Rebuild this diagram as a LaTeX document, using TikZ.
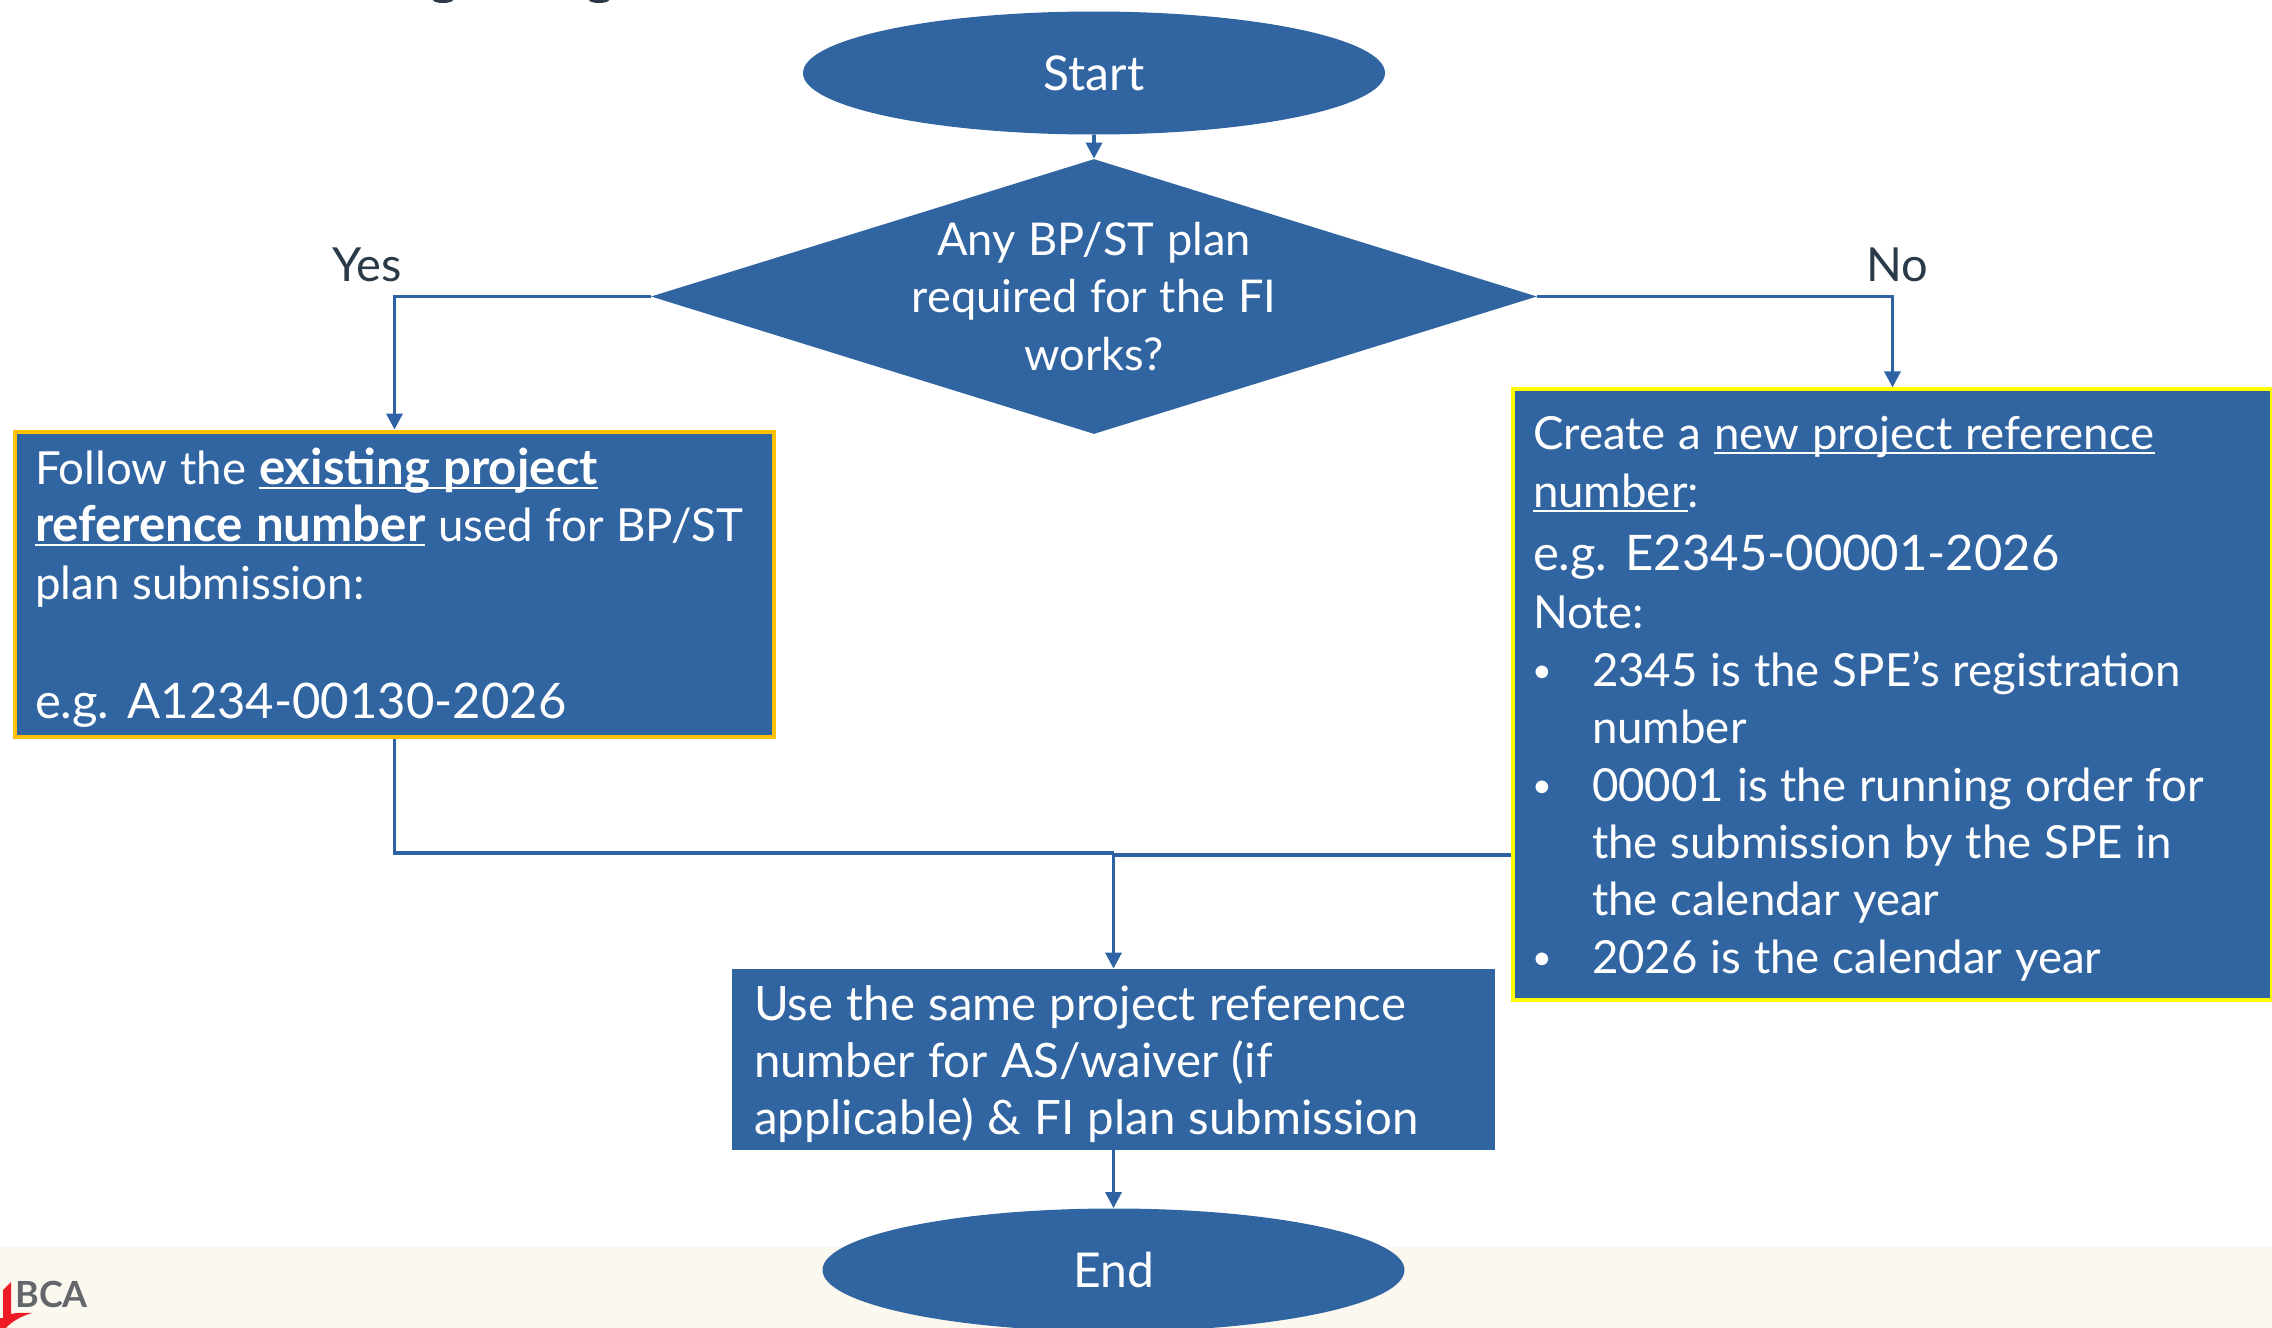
\documentclass[tikz,border=0pt]{standalone}
\usepackage{fontspec}
\usetikzlibrary{shapes.geometric,arrows.meta,calc}
\setmainfont{Lato}[WordSpace=1.1]
\definecolor{fc}{HTML}{3165A2}
\definecolor{lc}{HTML}{2F62A3}
\definecolor{band}{HTML}{FBF9EF}
\definecolor{lab}{HTML}{2B3A48}
\definecolor{amber}{HTML}{FFC000}
\definecolor{lemon}{HTML}{FFFF00}
\definecolor{logogray}{HTML}{63666A}
\definecolor{logored}{HTML}{ED1C24}
\newsavebox{\ulbox}
\newcommand{\myul}[1]{\leavevmode\sbox{\ulbox}{#1}\rlap{\rule[-2.2pt]{\wd\ulbox}{0.9pt}}\usebox{\ulbox}}
\newcommand{\bul}{\makebox[29.5pt][l]{\hspace{-0.5pt}\raisebox{2pt}{\fontsize{17}{17}\selectfont •}}}
\newcommand{\ind}{\hspace*{29.5pt}}
\newcommand{\eg}[1]{{\fontsize{24.5}{28.7}\selectfont #1}}
\newcommand{\bld}[1]{{\fontsize{24.6}{28.7}\selectfont\bfseries #1}}
\tikzset{
  x=0.5pt,y=-0.5pt,
  natural/.style={execute at begin node={\spaceskip=0pt\xspaceskip=0pt\relax}},
  term/.style={ellipse,fill=fc,inner sep=0pt,minimum width=291pt,minimum height=61.5pt,font=\fontsize{24}{28.7}\selectfont,text=white},
  decide/.style={diamond,fill=fc,inner sep=0pt,aspect=3.2,minimum width=443pt,minimum height=137.5pt},
  dectext/.style={font=\fontsize{22.6}{28.7}\selectfont,text=white,align=center},
  stepbox/.style={rectangle,fill=fc,inner ysep=0pt,inner xsep=10pt,text width=359.5pt,align=left,natural,font=\fontsize{22.8}{28.7}\selectfont,text=white},
  midbox/.style={rectangle,fill=fc,inner ysep=0pt,inner xsep=11pt,text width=359.5pt,minimum height=90.5pt,align=left,natural,font=\fontsize{23.7}{28.7}\selectfont,text=white},
  flow/.style={draw=lc,line width=1.7pt,-{Triangle[length=8pt,width=8pt]}},
  flowplain/.style={draw=lc,line width=1.7pt},
  branch/.style={font=\fontsize{23.5}{24}\selectfont,text=lab},
}
\begin{document}
\begin{tikzpicture}
\useasboundingbox (0,0) rectangle (2272,1328);
\fill[band] (0,1247) rectangle (2272,1328);
% cropped text remnants at top edge
\fill[lab] (433,0) arc[start angle=180,end angle=360,x radius=10,y radius=-3] -- cycle;
\fill[lab] (589,0) arc[start angle=180,end angle=360,x radius=10,y radius=-3] -- cycle;

\node[term] (start) at (1094,73) {Start};
\node[decide] (dec) at (1094,296.5) {};
\node[dectext] (dect) at (dec.center) {Any BP/ST plan\\required for the FI\\works?};
\node[stepbox,draw=amber,line width=2pt,minimum height=152.5pt] (yesbox) at (394.5,584) {%
\rule{0pt}{22pt}Follow the \myul{\bld{existing project}}\\
\myul{\bld{reference number}} used for BP/ST\\
plan submission:\\
\mbox{}\\[2.5pt]
\eg{e.g. A1234-00130-2026}};
\node[stepbox,draw=lemon,line width=1.6pt,minimum height=305.5pt] (nobox) at (1892.5,694.5) {%
\rule{0pt}{21pt}Create a \myul{new project reference}\\
\myul{number}:\\[3pt]
\eg{e.g. E2345-00001-2026}\\[0.5pt]
Note:\\
\bul 2345 is the SPE’s registration\\
\ind number\\
\bul 00001 is the running order for\\
\ind the submission by the SPE in\\
\ind the calendar year\\
\bul 2026 is the calendar year};
\node[midbox] (mid) at (1113.5,1059.5) {\rule{0pt}{22pt}Use the same project reference\\number for AS/waiver (if\\applicable) \& FI plan submission};
\node[term] (endn) at (1113.5,1270) {End};

\node[branch] (yes) at (367,265) {Yes};
\node[branch] (no) at (1897,265) {No};

\coordinate (nport) at (nobox.west |- 0,855);
\coordinate (join) at (mid.north |- 0,853);
\draw[flow] (start.south) -- (dec.north);
\draw[flow] (dec.west) -| (yesbox.north);
\draw[flow] (dec.east) -| (nobox.north);
\draw[flowplain] (yesbox.south) |- (join);
\draw[flowplain] (nport) -- (mid.north |- nport);
\draw[flow] (join) -- (mid.north);
\draw[flow] (mid.south) -- (endn.north);

% logo
\node[inner sep=0pt,anchor=south west,font=\bfseries\fontsize{18}{18}\selectfont,text=logogray] (bca) at (15,1308) {BCA};
\fill[logored] (3,1290) -- (11,1282) -- (11,1314) .. controls (20,1312) and (26,1313) .. (32,1313) .. controls (22,1316) and (12,1321) .. (6,1328) -- (0,1328) -- (0,1318) -- (3,1318) -- cycle;
\end{tikzpicture}
\end{document}
